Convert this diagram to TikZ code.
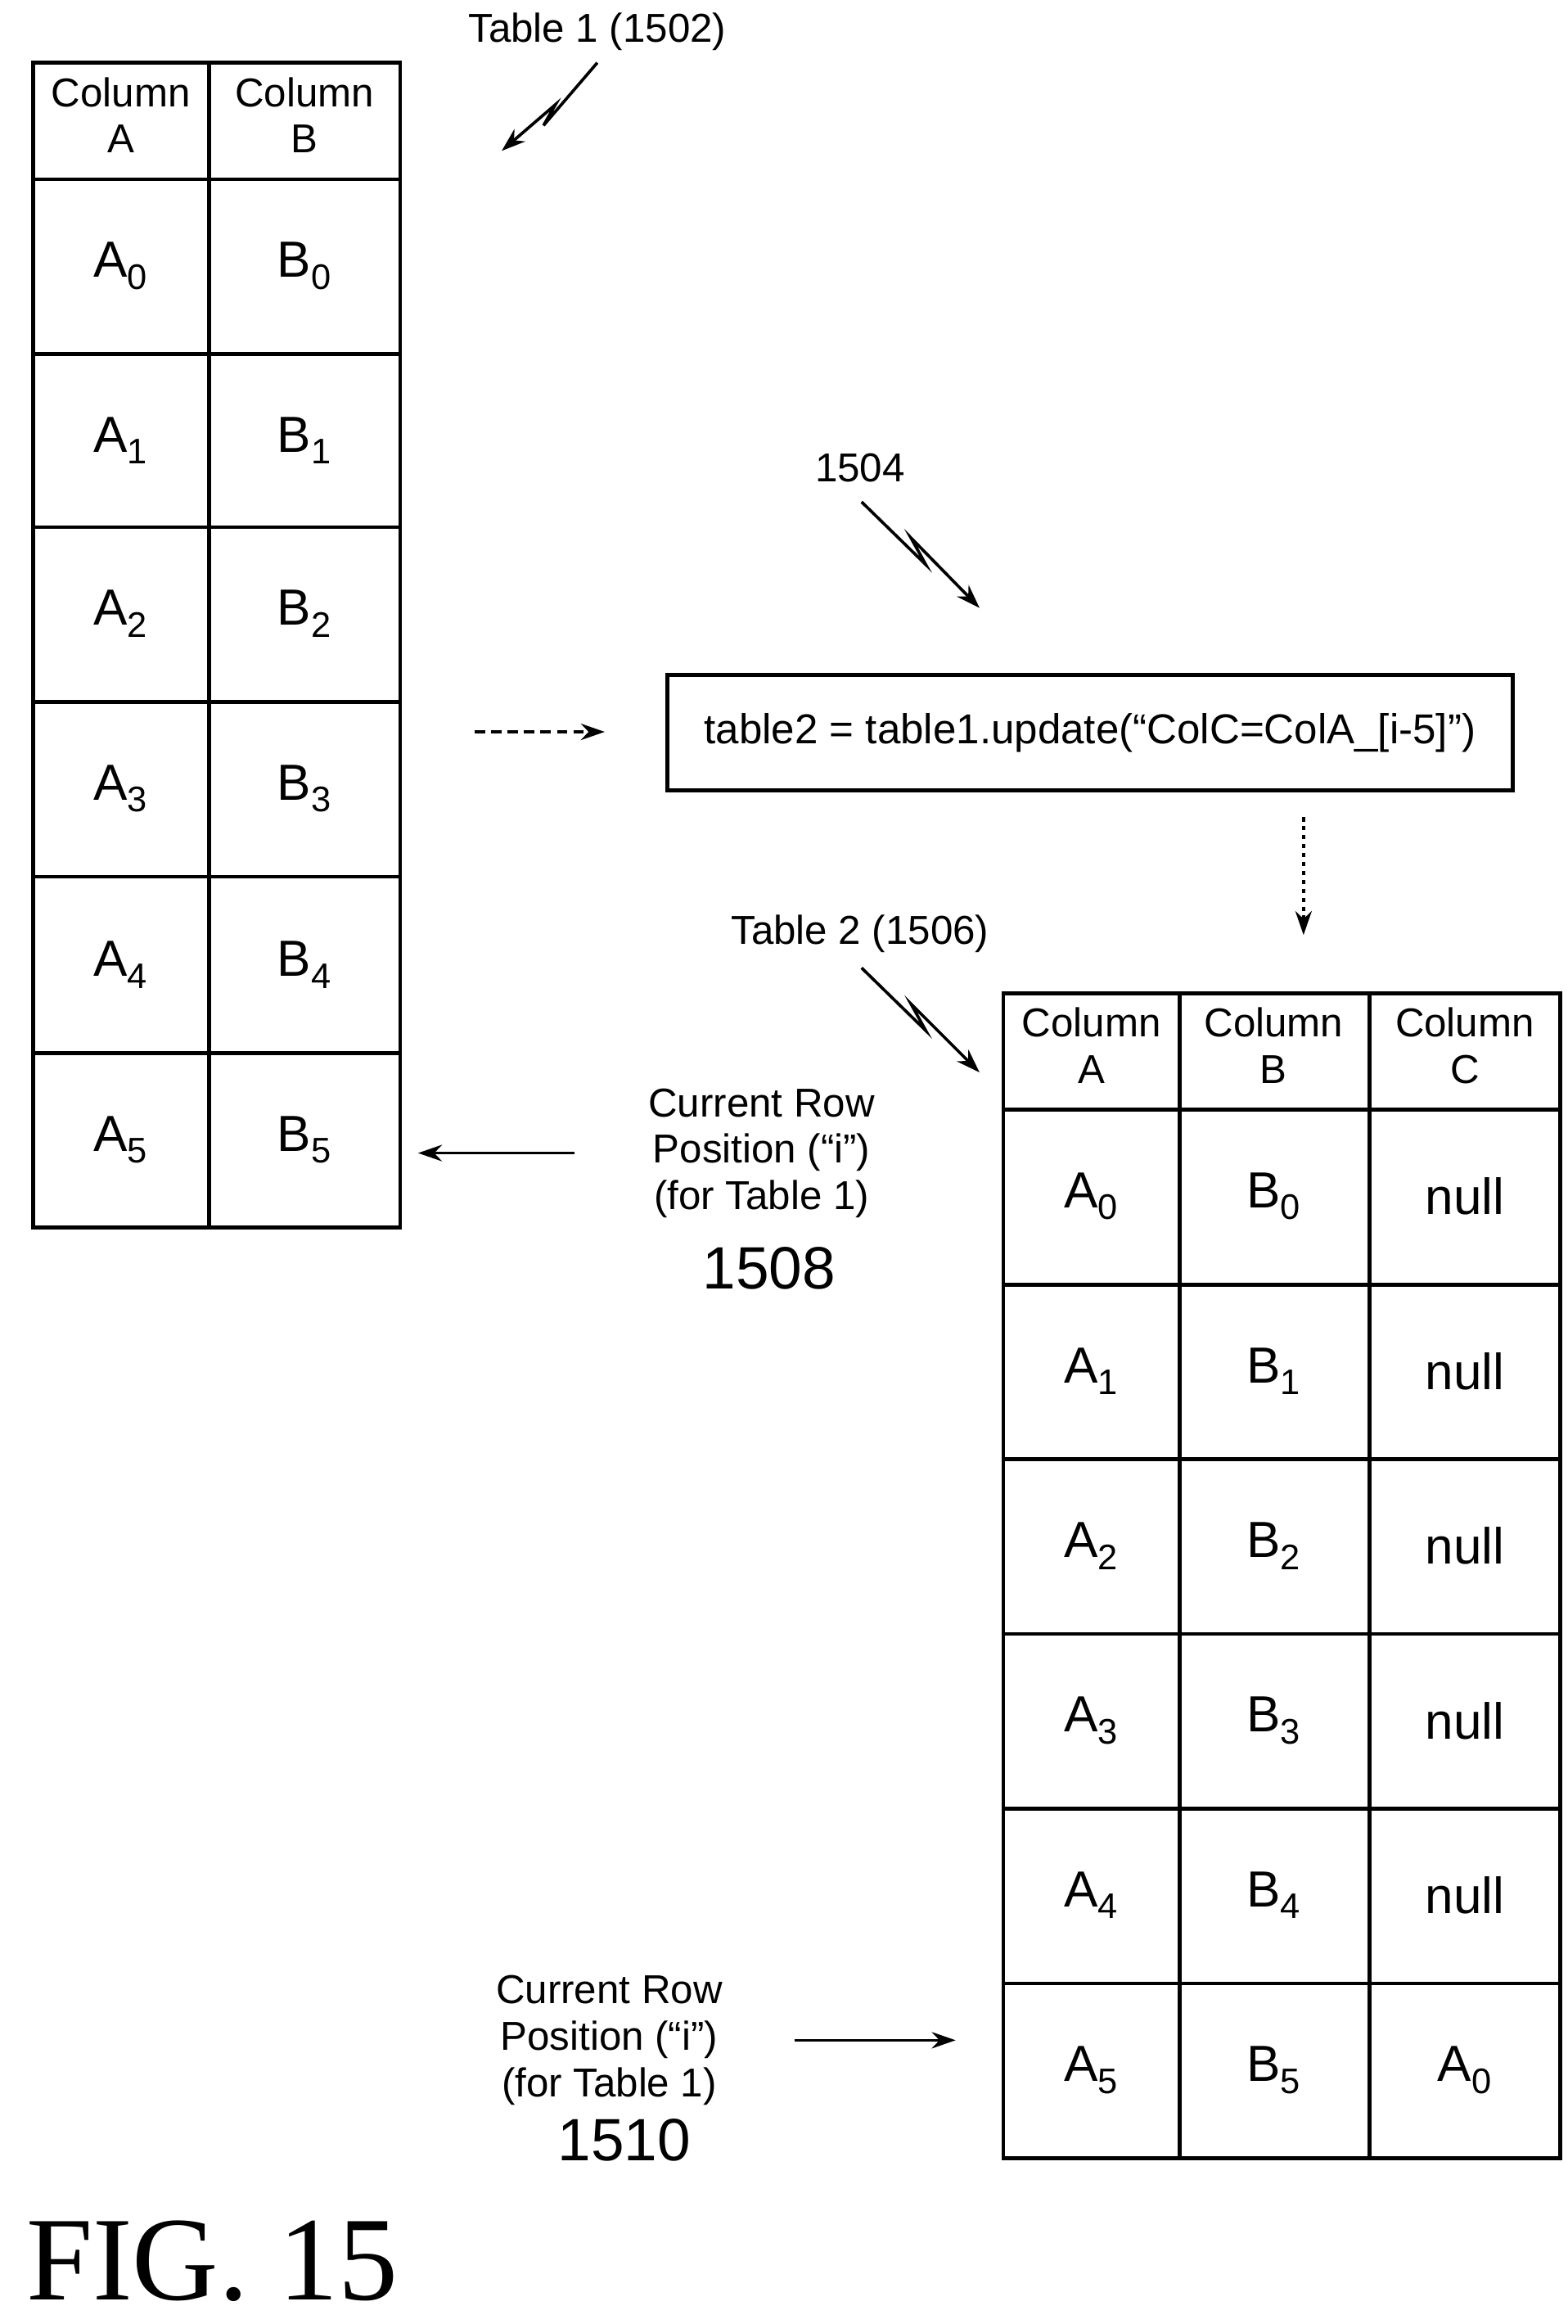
\documentclass[tikz,border=0pt]{standalone}
\usepackage{fontspec}
\setmainfont{Liberation Sans}
\newfontfamily\figfont{Liberation Serif}
\usetikzlibrary{arrows.meta}
\begin{document}
\begin{tikzpicture}[x=1pt,y=-1pt,line width=2.6pt,
  cell/.style={inner sep=0pt,font=\fontsize{34}{36}\selectfont},
  hdr/.style={align=center,font=\fontsize{27}{31}\selectfont},
  lbl/.style={font=\fontsize{27}{31}\selectfont},
  arr/.style={-{Stealth[length=16pt,width=11pt]},line width=2pt}]
\useasboundingbox (0,0) rectangle (1050,1556);
\newcommand\sbs[2]{#1\textsubscript{#2}}
% Table 1
\draw (22,42) rectangle (268,822);
\draw (140,42) -- (140,822);
\foreach \y in {120,237,353,470,587,705} \draw (22,\y) -- (268,\y);
\node[hdr] (t1ha) at (81,77) {Column\\A};
\node[hdr] (t1hb) at (204,77) {Column\\B};
\foreach \i/\y in {0/178,1/295,2/411,3/528,4/646,5/763}{
  \node[cell] (t1a\i) at (81,\y) {\sbs{A}{\i}};
  \node[cell] (t1b\i) at (204,\y) {\sbs{B}{\i}};}
% Table 2
\draw (672,665) rectangle (1045,1445);
\draw (790,665) -- (790,1445);
\draw (917,665) -- (917,1445);
\foreach \y in {743,860,977,1094,1211,1328} \draw (672,\y) -- (1045,\y);
\node[hdr] (t2ha) at (731,700) {Column\\A};
\node[hdr] (t2hb) at (853,700) {Column\\B};
\node[hdr] (t2hc) at (981,700) {Column\\C};
\foreach \i/\y in {0/801,1/918,2/1035,3/1152,4/1269,5/1386}{
  \node[cell] (t2a\i) at (731,\y) {\sbs{A}{\i}};
  \node[cell] (t2b\i) at (853,\y) {\sbs{B}{\i}};}
\foreach \i/\y in {0/801,1/918,2/1035,3/1152,4/1269}
  \node[cell] (t2c\i) at (981,\y) {null};
\node[cell] (t2c5) at (981,1386) {\sbs{A}{0}};
% box
\node[draw,minimum width=566pt,minimum height=77pt,font=\fontsize{28}{32}\selectfont] (box) at (730,490.5) {table2 = table1.update(“ColC=ColA\_[i-5]”)};
% arrows
\coordinate (d1) at (318,490); \coordinate (d2) at (405,490);
\draw[arr,dash pattern=on 7pt off 4pt] (d1) -- (d2);
\coordinate (v1) at (873,547); \coordinate (v2) at (873,626);
\draw[arr,dash pattern=on 3pt off 3pt] (v1) -- (v2);
\node[lbl,align=center] (cr1) at (510,772) {Current Row\\Position (“i”)\\(for Table 1)};
\node[font=\fontsize{40}{44}\selectfont] (n1508) at (515,849) {1508};
\coordinate (a1) at (385,772); \coordinate (a2) at (280,772);
\draw[arr] (a1) -- (a2);
\node[lbl,align=center] (cr2) at (408,1366) {Current Row\\Position (“i”)\\(for Table 1)};
\node[font=\fontsize{40}{44}\selectfont] (n1510) at (418,1433) {1510};
\coordinate (b1) at (532,1366); \coordinate (b2) at (640,1366);
\draw[arr] (b1) -- (b2);
% labels with squiggles
\node[lbl] (l1502) at (400,21) {Table 1 (1502)};
\draw[arr] (400,42) -- (364,84) -- (372,70) -- (336,101);
\node[lbl] (l1504) at (576,313) {1504};
\draw[arr] (577,336) -- (620,378) -- (610,360) -- (656,407);
\node[lbl] (l1506) at (576,625) {Table 2 (1506)};
\draw[arr] (577,648) -- (620,690) -- (610,672) -- (656,718);
\node[font=\figfont\fontsize{80}{84}\selectfont] (fig) at (142,1514) {FIG. 15};
\end{tikzpicture}
\end{document}
